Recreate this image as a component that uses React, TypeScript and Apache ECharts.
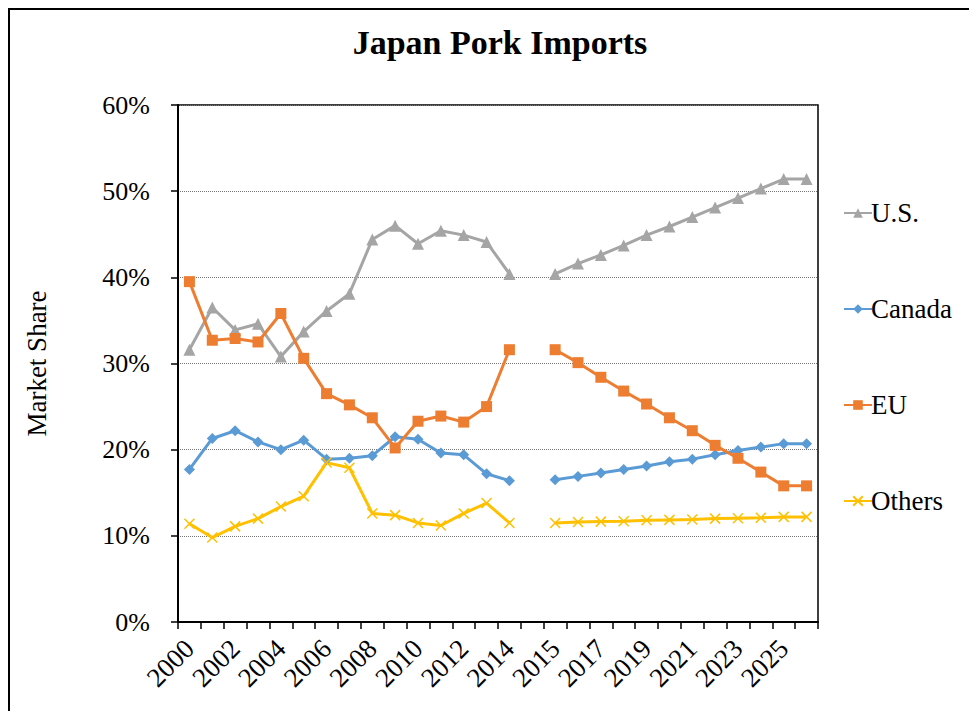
import React, { useEffect, useRef } from "react";
import * as echarts from "echarts";

const categories = [
  "2000", "2001", "2002", "2003", "2004", "2005", "2006", "2007", "2008", "2009",
  "2010", "2011", "2012", "2013", "2014", "", "2015", "2016", "2017", "2018",
  "2019", "2020", "2021", "2022", "2023", "2024", "2025", "2026",
];

const usValues = [
  31.6, 36.5, 33.9, 34.6, 30.8, 33.7, 36.1, 38.1, 44.4, 46.0, 43.9, 45.4, 44.9, 44.1, 40.4,
  null,
  40.4, 41.6, 42.6, 43.7, 44.9, 45.9, 47.0, 48.1, 49.2, 50.3, 51.4, 51.4,
];
const canadaValues = [
  17.7, 21.3, 22.2, 20.9, 20.0, 21.1, 18.9, 19.0, 19.3, 21.5, 21.2, 19.6, 19.4, 17.2, 16.4,
  null,
  16.5, 16.9, 17.3, 17.7, 18.1, 18.6, 18.9, 19.4, 19.9, 20.3, 20.7, 20.7,
];
const euValues = [
  39.5, 32.7, 32.9, 32.5, 35.8, 30.6, 26.5, 25.2, 23.7, 20.2, 23.3, 23.9, 23.2, 25.0, 31.6,
  null,
  31.6, 30.1, 28.4, 26.8, 25.3, 23.7, 22.2, 20.5, 19.0, 17.4, 15.8, 15.8,
];
const othersValues = [
  11.4, 9.8, 11.1, 12.0, 13.4, 14.6, 18.5, 17.9, 12.6, 12.4, 11.5, 11.2, 12.6, 13.8, 11.5,
  null,
  11.5, 11.6, 11.65, 11.7, 11.8, 11.85, 11.9, 12.0, 12.05, 12.1, 12.2, 12.2,
];

const FONT = "'Liberation Serif', 'Times New Roman', serif";

export default function App() {
  const ref = useRef<HTMLDivElement>(null);
  useEffect(() => {
    if (!ref.current) return;
    const chart = echarts.init(ref.current, undefined, { renderer: "svg" });
    const crossPath = "path://M0,0L10,10M10,0L0,10";
    chart.setOption({
      animation: false,
      backgroundColor: "#fff",
      textStyle: { fontFamily: FONT, color: "#000" },
      title: {
        text: "Japan Pork Imports",
        left: 495,
        textAlign: "center",
        top: 20,
        textStyle: { fontFamily: FONT, fontSize: 34, fontWeight: "bold", color: "#000" },
      },
      graphic: [
        {
          type: "rect",
          shape: { x: 9, y: 9, width: 2000, height: 2000 },
          style: { fill: "none", stroke: "#000", lineWidth: 2 },
          silent: true,
        },
      ],
      legend: {
        orient: "vertical",
        left: 838,
        top: 194,
        itemWidth: 28,
        itemHeight: 12,
        itemGap: 68,
        textStyle: { fontFamily: FONT, fontSize: 27, color: "#000", lineHeight: 28, padding: [0, 0, 0, -6] },
        data: ["U.S.", "Canada", "EU", "Others"],
      },
      grid: {
        left: 178,
        right: 151,
        top: 105,
        bottom: 89,
        show: true,
        borderColor: "#000",
        borderWidth: 1.5,
        containLabel: false,
      },
      xAxis: {
        type: "category",
        data: categories,
        boundaryGap: true,
        axisLine: { lineStyle: { color: "#000", width: 2 } },
        axisTick: { show: true, interval: 0, length: 7, lineStyle: { color: "#000", width: 1.5 } },
        axisLabel: {
          interval: 1,
          rotate: 45,
          margin: 22,
          fontFamily: FONT,
          fontSize: 27,
          color: "#000",
        },
        splitLine: { show: false },
      },
      yAxis: {
        type: "value",
        min: 0,
        max: 60,
        interval: 10,
        name: "Market Share",
        nameLocation: "middle",
        nameGap: 128,
        nameTextStyle: { fontFamily: FONT, fontSize: 27, color: "#000" },
        axisLine: { show: true, lineStyle: { color: "#000", width: 2 } },
        axisTick: { show: true, length: 7, lineStyle: { color: "#000", width: 1.5 } },
        axisLabel: {
          formatter: "{value}%",
          margin: 28,
          fontFamily: FONT,
          fontSize: 26,
          color: "#000",
        },
        splitLine: { show: true, lineStyle: { color: "#777", type: "dotted", width: 1 } },
      },
      series: [
        {
          name: "U.S.",
          type: "line",
          data: usValues,
          symbol: "triangle",
          symbolSize: 12,
          color: "#A5A5A5",
          lineStyle: { width: 3, color: "#A5A5A5" },
          itemStyle: { color: "#A5A5A5" },
        },
        {
          name: "Canada",
          type: "line",
          data: canadaValues,
          symbol: "diamond",
          symbolSize: 11,
          color: "#5B9BD5",
          lineStyle: { width: 3, color: "#5B9BD5" },
          itemStyle: { color: "#5B9BD5" },
        },
        {
          name: "EU",
          type: "line",
          data: euValues,
          symbol: "rect",
          symbolSize: 11,
          color: "#ED7D31",
          lineStyle: { width: 3, color: "#ED7D31" },
          itemStyle: { color: "#ED7D31" },
        },
        {
          name: "Others",
          type: "line",
          data: othersValues,
          symbol: crossPath,
          symbolSize: 10,
          color: "#FFC000",
          lineStyle: { width: 3, color: "#FFC000" },
          itemStyle: { color: "#FFC000", borderColor: "#FFC000", borderWidth: 1.5 },
        },
      ],
    });
    return () => chart.dispose();
  }, []);
  return (
    <div
      ref={ref}
      style={{ position: "fixed", left: 0, top: 0, width: 969, height: 711 }}
    />
  );
}
